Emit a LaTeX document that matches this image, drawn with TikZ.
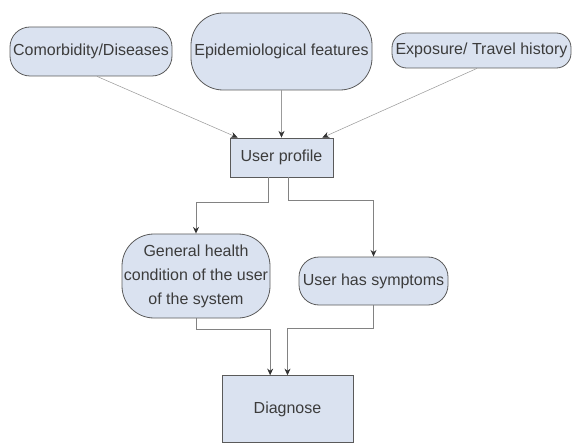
\documentclass[tikz,border=0pt]{standalone}
\usepackage{xcolor}
\usepackage{fontspec}
\setmainfont{Liberation Sans}
\usetikzlibrary{arrows.meta}
\definecolor{boxfill}{RGB}{218,226,240}
\definecolor{boxline}{RGB}{90,90,90}
\definecolor{boxtext}{RGB}{60,60,60}
\definecolor{wire}{RGB}{130,130,130}
\tikzset{
  box/.style={draw=boxline, fill=boxfill, text=boxtext, line width=0.6pt,
    inner sep=1pt, align=center, font=\fontsize{12}{18}\selectfont},
  wirearrow/.style={draw=wire, -{Stealth[length=5pt,width=4.5pt,black!80]}}
}

\begin{document}
\begin{tikzpicture}[x=0.75pt, y=-0.75pt]
    \useasboundingbox (0,0) rectangle (574,445);
    \node[box, rounded corners=15pt, minimum width=121.5pt, minimum height=36.75pt] (comorb) at (91,51.5) {Comorbidity/Diseases};
    \node[box, rounded corners=24pt, minimum width=135.75pt, minimum height=57.75pt] (epidem) at (281.5,51.5) {Epidemiological features};
    \node[box, rounded corners=11pt, minimum width=134.25pt, minimum height=26.25pt] (expos) at (481.5,50.5) {Exposure/ Travel history};
    \node[box, minimum width=77.25pt, minimum height=29.25pt] (profile) at (281.5,157.5) {User profile};
    \node[box, rounded corners=24pt, minimum width=111pt, minimum height=63pt] (general) at (196,276) {General health\\condition of the user\\of the system};
    \node[box, rounded corners=15pt, minimum width=111.75pt, minimum height=36pt] (symptoms) at (373.5,281) {User has symptoms};
    \node[box, minimum width=98.25pt, minimum height=50pt] (diagnose) at (287.5,409) {Diagnose};
    \begin{scope}[wirearrow, line width=0.4pt, draw=wire!80]
      \draw ([xshift=4.5pt]comorb.south) -- ([xshift=6pt]profile.north west);
      \draw (epidem.south) -- (profile.north);
      \draw ([xshift=-3.4pt]expos.south) -- ([xshift=-8.25pt]profile.north east);
    \end{scope}
    \begin{scope}[wirearrow, line width=0.7pt]
      \draw ([xshift=-10pt]profile.south) -- ++(0,25) -| (general.north);
      \draw ([xshift=5pt]profile.south) -- ++(0,23) -| (symptoms.north);
      \draw (general.south) -- ++(0,11) -| ([xshift=-13pt]diagnose.north);
      \draw (symptoms.south) -- ++(0,23) -| (diagnose.north);
    \end{scope}
  \end{tikzpicture}
\end{document}
